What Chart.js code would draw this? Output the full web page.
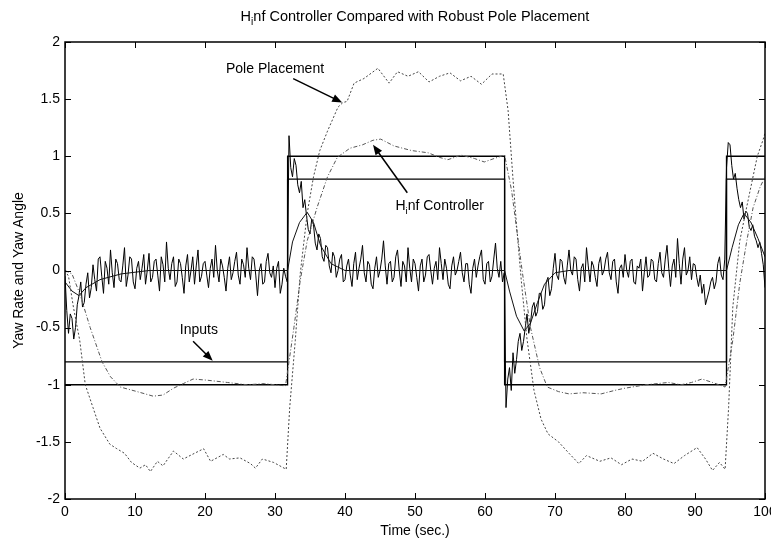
<!DOCTYPE html>
<html>
<head>
<meta charset="utf-8">
<script src="https://cdn.jsdelivr.net/npm/chart.js@4.4.1/dist/chart.umd.min.js"></script>
<style>
  html, body { margin: 0; padding: 0; background: #fff; }
  canvas { display: block; }
</style>
</head>
<body>
<canvas id="c" width="771" height="540"></canvas>
<script>
// axis ticks
const timeTicks = [0, 10, 20, 30, 40, 50, 60, 70, 80, 90, 100];
const angleTicks = [-2, -1.5, -1, -0.5, 0, 0.5, 1, 1.5, 2];

// square-wave inputs
const switchTimes = [0, 31.8, 62.8, 94.5, 100];
const inputLarge = [-1, 1, -1, 1, 1];
const inputSmall = [-0.8, 0.8, -0.8, 0.8, 0.8];

// noisy yaw rate, sampled every 0.25 s from t = 0 (one row = 2 s)
const yawNoisyStep = 0.25;
const yawNoisy = [
  -0.05, -0.35, -0.55, -0.38, -0.42, -0.6, -0.5, -0.3,
  -0.22, -0.1, -0.32, -0.28, -0.12, -0.02, -0.24, -0.15,
  0.05, -0.08, -0.18, 0.1, 0.12, -0.05, -0.2, 0.08,
  0.02, -0.12, 0.18, -0.02, -0.15, 0.1, 0.06, -0.08,
  -0.1, 0.04, 0.2, -0.14, -0.04, 0.12, 0.1, -0.1,
  -0.16, 0.02, 0.08, -0.08, 0.02, 0.14, -0.12, 0.0,
  0.15, -0.1, -0.06, 0.08, 0.1, -0.04, -0.18, 0.12,
  0.05, -0.1, 0.25, 0.02, -0.08, 0.06, 0.12, -0.14,
  -0.1, 0.1, 0.06, -0.06, -0.2, 0.04, 0.14, -0.1,
  0.0, 0.12, -0.12, 0.04, 0.18, -0.1, -0.05, 0.06,
  0.08, -0.04, -0.15, 0.02, 0.1, -0.06, 0.22, 0.0,
  -0.1, 0.1, 0.04, -0.06, -0.18, 0.02, 0.12, -0.08,
  -0.02, 0.08, 0.16, -0.04, -0.12, 0.1, 0.05, -0.06,
  0.2, 0.02, -0.08, 0.12, 0.1, -0.04, -0.22, 0.0,
  0.06, -0.12, -0.1, 0.08, 0.15, -0.02, -0.06, 0.04,
  -0.15, 0.02, 0.08, -0.2, -0.12, 0.02, -0.05, -0.1,
  1.18, 0.9, 0.82, 0.98, 0.92, 0.75, 0.68, 0.78,
  0.55, 0.62, 0.48, 0.36, 0.32, 0.45, 0.4, 0.24,
  0.18, 0.32, 0.28, 0.12, 0.08, 0.22, 0.2, 0.04,
  -0.02, 0.16, 0.12, -0.06, 0.0, 0.1, 0.14, -0.1,
  -0.08, 0.04, 0.1, -0.04, -0.14, 0.06, 0.16, -0.08,
  0.02, 0.1, 0.22, -0.02, -0.1, 0.08, 0.05, -0.12,
  -0.16, 0.02, 0.12, -0.06, 0.0, 0.1, 0.26, 0.04,
  -0.12, 0.06, 0.08, -0.1, -0.06, 0.12, 0.18, 0.0,
  -0.14, 0.08, 0.04, -0.1, 0.2, 0.02, -0.1, 0.1,
  0.06, -0.06, -0.18, 0.04, 0.1, -0.1, -0.04, 0.12,
  0.14, 0.0, -0.12, 0.02, 0.08, -0.08, 0.2, 0.06,
  -0.08, 0.1, 0.02, -0.12, -0.16, 0.04, 0.12, -0.04,
  0.0, 0.08, 0.16, -0.02, -0.1, 0.06, 0.06, -0.12,
  -0.2, 0.02, 0.1, -0.06, 0.04, 0.12, 0.18, -0.08,
  -0.12, 0.06, 0.08, -0.1, -0.05, 0.1, 0.24, 0.02,
  -0.06, 0.08, -0.1, -0.02, -1.2, -0.95, -0.85, -1.05,
  -0.72, -0.9, -0.78, -0.62, -0.55, -0.7, -0.62, -0.5,
  -0.38, -0.55, -0.46, -0.32, -0.28, -0.4, -0.36, -0.2,
  -0.2, -0.34, -0.3, -0.1, -0.06, -0.22, -0.16, 0.02,
  0.15, -0.04, -0.08, 0.1, 0.08, -0.06, -0.12, 0.04,
  0.18, 0.0, -0.04, 0.12, 0.1, -0.08, -0.18, 0.02,
  0.06, -0.1, 0.2, 0.04, -0.1, 0.08, 0.04, -0.06,
  -0.14, 0.06, 0.12, -0.04, 0.0, 0.1, 0.16, -0.02,
  -0.08, 0.08, 0.1, -0.1, -0.2, 0.02, 0.05, -0.06,
  0.14, 0.0, -0.06, 0.08, 0.1, -0.1, -0.12, 0.04,
  0.02, 0.1, -0.18, -0.02, 0.12, -0.06, -0.04, 0.1,
  0.08, -0.08, -0.1, 0.06, 0.16, -0.02, -0.06, 0.1,
  0.22, 0.02, -0.14, 0.04, 0.1, -0.06, 0.28, 0.06,
  -0.12, 0.1, 0.2, -0.04, 0.0, 0.12, -0.08, 0.06,
  0.05, -0.06, -0.14, -0.04, -0.2, -0.12, -0.3, -0.24,
  -0.18, -0.1, -0.06, -0.16, -0.1, 0.06, 0.12, -0.04,
  -0.08, 0.1, 0.9, 1.12, 1.1, 0.92, 0.8, 0.85,
  0.72, 0.62, 0.55, 0.6, 0.45, 0.52, 0.5, 0.38,
  0.35, 0.4, 0.3, 0.26, 0.2, 0.25, 0.15, 0.05,
  -0.15
];

// smooth yaw rate
const yawSmoothT = [0, 1, 2, 3, 5, 8, 12, 31.8, 32.5, 33.5, 34.6, 35.5, 36.5, 38, 40, 62.8, 63.5, 64.5, 65.6, 66.5, 67.5, 68.5, 70, 72, 94.5, 95.3, 96.2, 97, 98, 99, 100];
const yawSmoothV = [-0.1, -0.18, -0.22, -0.15, -0.08, -0.03, 0, 0, 0.25, 0.42, 0.51, 0.42, 0.22, 0.06, 0, 0, -0.18, -0.4, -0.53, -0.46, -0.28, -0.12, -0.02, 0, 0, 0.2, 0.4, 0.5, 0.42, 0.28, 0.12];

// pole placement response
const poleT = [0, 0.5, 1.2, 2.1, 2.9, 4, 5, 6.4, 7.4, 8.5, 9.5, 10.7, 11.5, 12.2, 13.2, 14, 15.5, 16.9, 18.5, 19.8, 20.8, 22.6, 23.5, 25, 26.5, 27.2, 28.2, 29.8, 31.6,
  32.1, 32.9, 33.6, 34.6, 35.5, 36.4, 37.5, 39, 39.7, 40.3, 41.3, 42.7, 44.7, 46.3, 47.5, 49, 50.5, 52, 53.5, 55, 56.5, 58, 59.5, 61, 62.6,
  63.3, 64, 64.5, 65.2, 66, 67, 68, 69, 70.5, 72, 73.4, 74.5, 76.4, 78, 79.5, 81, 82.5, 84, 85.5, 87, 88.5, 90.3, 91.5, 92.5, 93.5, 94.3,
  94.8, 95.4, 96.4, 97.4, 98.9, 99.7, 100];
const poleV = [0, -0.05, -0.32, -0.61, -1.0, -1.2, -1.38, -1.52, -1.56, -1.6, -1.68, -1.73, -1.7, -1.76, -1.67, -1.71, -1.58, -1.65, -1.6, -1.56, -1.67, -1.61, -1.65, -1.64, -1.69, -1.73, -1.65, -1.68, -1.74,
  -1.2, -0.61, -0.03, 0.5, 0.82, 1.05, 1.22, 1.43, 1.47, 1.48, 1.64, 1.68, 1.77, 1.64, 1.74, 1.7, 1.74, 1.65, 1.7, 1.73, 1.66, 1.7, 1.63, 1.72, 1.72,
  1.4, 0.8, 0.4, -0.1, -0.6, -1.05, -1.3, -1.43, -1.5, -1.6, -1.69, -1.62, -1.67, -1.64, -1.7, -1.65, -1.67, -1.6, -1.65, -1.69, -1.62, -1.55, -1.65, -1.75, -1.68, -1.74,
  -1.2, -0.32, 0.26, 0.56, 1.0, 1.14, 1.2];

// H-infinity controller response
const hinfT = [0, 1, 2.1, 3.6, 5.3, 6.5, 7.9, 10.3, 12.6, 14, 15.5, 16.9, 18.3, 20.3, 23.2, 26, 28.5, 31.5,
  32.7, 33.6, 34.6, 36, 37.5, 38.9, 40.7, 42.5, 44, 45.1, 47, 49.5, 51.9, 53.5, 54.7, 56.6, 58.5, 59.9, 61.3, 62.8,
  63.8, 65.3, 66.5, 67.8, 68.9, 70.5, 72, 74, 76.6, 78.5, 80, 83, 86.2, 88, 89.5, 91, 92.5, 94.3,
  95.4, 96.4, 97.4, 98.3, 99.3, 100];
const hinfV = [0, -0.03, -0.2, -0.5, -0.8, -0.93, -1.02, -1.06, -1.1, -1.09, -1.03, -0.99, -0.95, -0.96, -0.98, -1.0, -0.99, -1.01,
  -0.5, -0.09, 0.26, 0.55, 0.82, 0.99, 1.07, 1.1, 1.14, 1.15, 1.09, 1.05, 1.03, 0.99, 0.97, 1.01, 0.98, 0.95, 0.98, 1.01,
  0.7, 0.0, -0.5, -0.85, -1.02, -1.06, -1.08, -1.07, -1.08, -1.05, -1.03, -1.0, -0.98, -1.0, -0.98, -0.95, -0.98, -1.02,
  -0.61, -0.11, 0.26, 0.55, 0.73, 0.82];

// labels with arrows, anchored in data units
const notes = [
  { parts: [['Pole Placement']], at: [23.0, 1.76], from: [32.6, 1.68], to: [39.6, 1.47] },
  { parts: [['H'], ['i', true], ['nf Controller']], at: [47.2, 0.56], from: [48.9, 0.68], to: [44.0, 1.1] },
  { parts: [['Inputs']], at: [16.4, -0.52], from: [18.3, -0.62], to: [21.1, -0.79] }
];
const titleParts = [['H'], ['i', true], ['nf Controller Compared with Robust Pole Placement']];

const FONT = '"Liberation Sans", Arial, sans-serif';

function pairs(t, v) {
  return t.map((x, i) => ({ x: x, y: v[i] }));
}

function drawRich(ctx, parts, x, y, size, center) {
  let total = 0;
  parts.forEach(p => {
    ctx.font = (p[1] ? size * 0.7 : size) + 'px ' + FONT;
    total += ctx.measureText(p[0]).width;
  });
  if (center) x -= total / 2;
  ctx.textBaseline = 'middle';
  ctx.textAlign = 'left';
  parts.forEach(p => {
    ctx.font = (p[1] ? size * 0.7 : size) + 'px ' + FONT;
    ctx.fillText(p[0], x, y + (p[1] ? size * 0.35 : 0));
    x += ctx.measureText(p[0]).width;
  });
}

const decorations = {
  id: 'decorations',
  afterDraw(chart) {
    const ctx = chart.ctx;
    const a = chart.chartArea;
    const xs = chart.scales.x, ys = chart.scales.y;
    ctx.save();
    ctx.strokeStyle = '#000';
    ctx.fillStyle = '#000';
    // frame
    ctx.lineWidth = 1.5;
    ctx.strokeRect(a.left, a.top, a.right - a.left, a.bottom - a.top);
    // inward ticks
    ctx.lineWidth = 1;
    ctx.beginPath();
    timeTicks.forEach(t => {
      const px = Math.round(xs.getPixelForValue(t)) + 0.5;
      ctx.moveTo(px, a.bottom); ctx.lineTo(px, a.bottom - 6);
      ctx.moveTo(px, a.top); ctx.lineTo(px, a.top + 6);
    });
    angleTicks.forEach(v => {
      const py = Math.round(ys.getPixelForValue(v)) + 0.5;
      ctx.moveTo(a.left, py); ctx.lineTo(a.left + 6, py);
      ctx.moveTo(a.right, py); ctx.lineTo(a.right - 6, py);
    });
    ctx.stroke();
    // title
    drawRich(ctx, titleParts, (a.left + a.right) / 2, 17, 14.5, true);
    // notes with arrows
    notes.forEach(n => {
      drawRich(ctx, n.parts, xs.getPixelForValue(n.at[0]), ys.getPixelForValue(n.at[1]), 14, false);
      const x1 = xs.getPixelForValue(n.from[0]), y1 = ys.getPixelForValue(n.from[1]);
      const x2 = xs.getPixelForValue(n.to[0]), y2 = ys.getPixelForValue(n.to[1]);
      const ang = Math.atan2(y2 - y1, x2 - x1);
      ctx.lineWidth = 1.5;
      ctx.beginPath();
      ctx.moveTo(x1, y1);
      ctx.lineTo(x2 - 6 * Math.cos(ang), y2 - 6 * Math.sin(ang));
      ctx.stroke();
      ctx.beginPath();
      ctx.moveTo(x2, y2);
      ctx.lineTo(x2 - 10 * Math.cos(ang) + 4 * Math.sin(ang), y2 - 10 * Math.sin(ang) - 4 * Math.cos(ang));
      ctx.lineTo(x2 - 10 * Math.cos(ang) - 4 * Math.sin(ang), y2 - 10 * Math.sin(ang) + 4 * Math.cos(ang));
      ctx.closePath();
      ctx.fill();
    });
    ctx.restore();
  }
};

const lineBase = { pointRadius: 0, fill: false, tension: 0, borderWidth: 1 };

new Chart(document.getElementById('c').getContext('2d'), {
  type: 'line',
  data: {
    datasets: [
      Object.assign({ label: 'Pole Placement', data: pairs(poleT, poleV), borderColor: '#444', borderDash: [2, 2] }, lineBase),
      Object.assign({ label: 'Hinf Controller', data: pairs(hinfT, hinfV), borderColor: '#555', borderDash: [4, 2, 1, 2] }, lineBase),
      Object.assign({ label: 'Yaw (smooth)', data: pairs(yawSmoothT, yawSmoothV), borderColor: '#111' }, lineBase),
      Object.assign({ label: 'Yaw (noisy)', data: yawNoisy.map((v, i) => ({ x: i * yawNoisyStep, y: v })), borderColor: '#000' }, lineBase),
      Object.assign({ label: 'Input 1', data: pairs(switchTimes, inputLarge), borderColor: '#000', stepped: 'before' }, lineBase, { borderWidth: 1.3 }),
      Object.assign({ label: 'Input 0.8', data: pairs(switchTimes, inputSmall), borderColor: '#000', stepped: 'before' }, lineBase, { borderWidth: 1.3 })
    ]
  },
  options: {
    responsive: false,
    animation: false,
    events: [],
    layout: { padding: { top: 42, right: 6, left: 0, bottom: 0 } },
    plugins: {
      legend: { display: false },
      title: { display: false },
      tooltip: { enabled: false }
    },
    scales: {
      x: {
        type: 'linear',
        min: 0,
        max: 100,
        afterFit: s => { s.height = 41; s.paddingLeft = 0; s.paddingRight = 0; },
        afterBuildTicks: s => { s.ticks = timeTicks.map(v => ({ value: v })); },
        grid: { display: false, drawTicks: false },
        border: { display: false },
        ticks: { color: '#000', padding: 5, maxRotation: 0, autoSkip: false, font: { family: FONT, size: 14 }, callback: v => String(v) },
        title: { display: true, text: 'Time (sec.)', color: '#000', padding: { top: 0, bottom: 0 }, font: { family: FONT, size: 14 } }
      },
      y: {
        min: -2,
        max: 2,
        afterFit: s => { s.width = 65; },
        afterBuildTicks: s => { s.ticks = angleTicks.map(v => ({ value: v })); },
        grid: { display: false, drawTicks: false },
        border: { display: false },
        ticks: { color: '#000', padding: 5, autoSkip: false, font: { family: FONT, size: 14 }, callback: v => String(v) },
        title: { display: true, text: 'Yaw Rate and Yaw Angle', color: '#000', padding: { top: 11, bottom: 0 }, font: { family: FONT, size: 14 } }
      }
    }
  },
  plugins: [decorations]
});
</script>
</body>
</html>
